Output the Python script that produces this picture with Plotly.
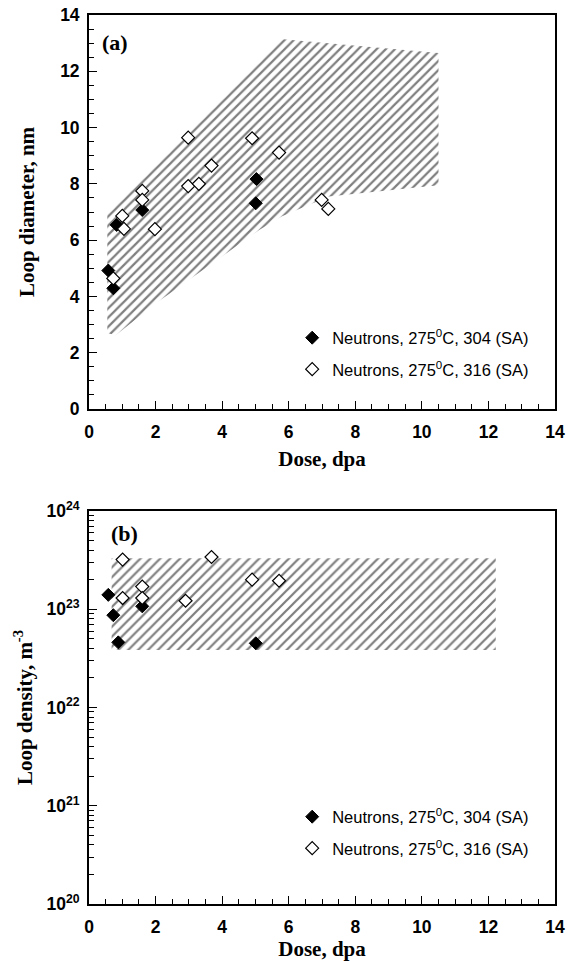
import plotly.graph_objects as go

# ---------------- data (a) loop diameter ----------------
a304_dose = [0.58, 0.73, 0.83, 1.6, 5.03, 5.01]
a304_diam = [4.92, 4.29, 6.54, 7.07, 8.17, 7.31]
a316_dose = [0.73, 1.0, 1.05, 1.6, 1.6, 1.98, 2.98, 2.98, 3.3, 3.68, 4.9, 5.71, 6.99, 7.19]
a316_diam = [4.64, 6.86, 6.4, 7.75, 7.43, 6.39, 9.64, 7.92, 8.0, 8.65, 9.62, 9.11, 7.43, 7.11]
a_band_dose = [0.55, 5.75, 10.5, 10.5, 7.2, 5.8, 5.1, 2.0, 0.8, 0.55]
a_band_diam = [7.0, 13.15, 12.65, 7.95, 7.55, 6.85, 6.35, 3.75, 2.62, 2.7]

# ---------------- data (b) loop density ----------------
b304_dose = [0.58, 0.73, 0.88, 1.6, 5.01]
b304_dens = [1.4e23, 8.7e22, 4.6e22, 1.07e23, 4.5e22]
b316_dose = [1.01, 1.01, 1.6, 1.6, 2.9, 3.68, 4.9, 5.71]
b316_dens = [3.2e23, 1.3e23, 1.7e23, 1.3e23, 1.22e23, 3.4e23, 2.0e23, 1.95e23]
b_band_dose = [0.68, 12.22, 12.22, 0.68, 0.68]
b_band_dens = [3.3e23, 3.3e23, 3.85e22, 3.85e22, 3.3e23]

x_ticks = [0, 2, 4, 6, 8, 10, 12, 14]
ya_ticks = [0, 2, 4, 6, 8, 10, 12, 14]
yb_exps = [20, 21, 22, 23, 24]

name304 = "Neutrons, 275<sup>0</sup>C, 304 (SA)"
name316 = "Neutrons, 275<sup>0</sup>C, 316 (SA)"

TICKFONT = dict(family="Liberation Sans, Arial", size=17.5, color="black", weight="bold")
TITLEFONT = dict(family="Liberation Serif, Times New Roman", size=21, color="black", weight="bold")
LEGFONT = dict(family="Liberation Sans, Arial", size=16.5, color="black")
LABFONT = dict(family="Liberation Serif, Times New Roman", size=22, color="black", weight="bold")

fig = go.Figure()

# hatched bands
fig.add_trace(go.Scatter(x=a_band_dose, y=a_band_diam, mode="lines", fill="toself",
                         line=dict(width=0, color="rgba(0,0,0,0)"),
                         fillcolor="rgba(255,255,255,0)",
                         fillpattern=dict(shape="/", size=6.5, solidity=0.34, fgcolor="black",
                                          bgcolor="rgba(255,255,255,0)"),
                         showlegend=False, hoverinfo="skip", xaxis="x", yaxis="y"))
fig.add_trace(go.Scatter(x=b_band_dose, y=b_band_dens, mode="lines", fill="toself",
                         line=dict(width=0, color="rgba(0,0,0,0)"),
                         fillcolor="rgba(255,255,255,0)",
                         fillpattern=dict(shape="/", size=7, solidity=0.32, fgcolor="black",
                                          bgcolor="rgba(255,255,255,0)"),
                         showlegend=False, hoverinfo="skip", xaxis="x2", yaxis="y2"))

mk304 = dict(symbol="diamond", size=10, color="black", line=dict(color="black", width=1))
mk316 = dict(symbol="diamond", size=10, color="white", line=dict(color="black", width=1.2))

fig.add_trace(go.Scatter(x=a304_dose, y=a304_diam, mode="markers", marker=mk304, name=name304,
                         legend="legend", legendgroup="a1", xaxis="x", yaxis="y"))
fig.add_trace(go.Scatter(x=a316_dose, y=a316_diam, mode="markers", marker=mk316, name=name316,
                         legend="legend", legendgroup="a2", xaxis="x", yaxis="y"))
fig.add_trace(go.Scatter(x=b304_dose, y=b304_dens, mode="markers", marker=mk304, name=name304,
                         legend="legend2", legendgroup="b1", xaxis="x2", yaxis="y2"))
fig.add_trace(go.Scatter(x=b316_dose, y=b316_dens, mode="markers", marker=mk316, name=name316,
                         legend="legend2", legendgroup="b2", xaxis="x2", yaxis="y2"))

def xax(domain_anchor, standoff, title_standoff):
    return dict(range=[0, 14], tickvals=x_ticks, ticks="inside", ticklen=8, tickwidth=1,
                tickcolor="black", minor=dict(dtick=0.5, ticks="inside", ticklen=5, tickcolor="black"),
                showline=True, linecolor="black", linewidth=1.8, mirror=True,
                showgrid=False, zeroline=False, tickfont=TICKFONT, ticklabelstandoff=standoff,
                anchor=domain_anchor, automargin=False,
                title=dict(text="Dose, dpa", font=TITLEFONT, standoff=title_standoff))

fig.update_layout(
    width=577, height=961, plot_bgcolor="white", paper_bgcolor="white",
    margin=dict(l=89, r=22, t=15, b=57),
    xaxis=xax("y", 6, 10),
    yaxis=dict(domain=[0.5568, 1.0], range=[0, 14], tickvals=ya_ticks, ticks="inside",
               ticklen=8, tickwidth=1, tickcolor="black",
               minor=dict(dtick=0.5, ticks="inside", ticklen=5, tickcolor="black"),
               showline=True, linecolor="black", linewidth=1.8, mirror=True,
               showgrid=False, zeroline=False, tickfont=TICKFONT, ticklabelstandoff=4,
               automargin=False,
               title=dict(text="Loop diameter, nm", font=TITLEFONT, standoff=20), anchor="x"),
    xaxis2=xax("y2", 6, 4),
    yaxis2=dict(domain=[0.0, 0.4421], type="log", range=[20, 24],
                tickvals=[10.0 ** e for e in yb_exps],
                ticktext=["10<sup>%d</sup>" % e for e in yb_exps],
                ticks="inside", ticklen=8, tickwidth=1, tickcolor="black",
                minor=dict(tickvals=[k * 10.0 ** e for e in yb_exps[:-1] for k in range(2, 10)],
                           ticks="inside", ticklen=5, tickcolor="black"),
                showline=True, linecolor="black", linewidth=1.8, mirror=True,
                showgrid=False, zeroline=False, tickfont=TICKFONT, ticklabelstandoff=4,
                automargin=False,
                title=dict(text="Loop density, m<sup>-3</sup>", font=TITLEFONT, standoff=8),
                anchor="x2"),
    legend=dict(x=0.436, y=0.6564, xanchor="left", yanchor="top", font=LEGFONT,
                bgcolor="rgba(0,0,0,0)", tracegroupgap=7),
    legend2=dict(x=0.436, y=0.1176, xanchor="left", yanchor="top", font=LEGFONT,
                 bgcolor="rgba(0,0,0,0)", tracegroupgap=7),
    annotations=[
        dict(text="(a)", xref="paper", yref="paper", x=0.0236, y=0.9696, xanchor="left",
             yanchor="middle", showarrow=False, font=LABFONT),
        dict(text="(b)", xref="paper", yref="paper", x=0.043, y=0.4173, xanchor="left",
             yanchor="middle", showarrow=False, font=LABFONT),
    ],
)

fig.write_html("out.html")
